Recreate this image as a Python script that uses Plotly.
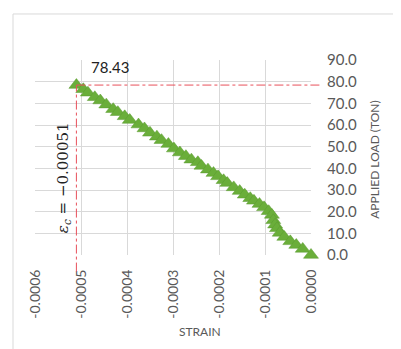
import plotly.graph_objects as go

# ---- data ----
strain = [-0.00051, -0.000495, -0.000485, -0.00047, -0.000458, -0.000445, -0.00043,
          -0.00042, -0.000405, -0.000394, -0.000375, -0.000362, -0.00035, -0.000335,
          -0.000325, -0.00031, -0.000298, -0.000285, -0.000272, -0.00026, -0.000246,
          -0.000238, -0.000224, -0.000212, -0.000202, -0.00019, -0.000182, -0.000168,
          -0.000155, -0.000144, -0.000132, -0.000124, -0.000112, -0.000102, -0.000092,
          -0.000085, -0.000082, -0.000078, -0.000074, -0.000068, -0.000058, -0.000045,
          -0.000032, -0.000018, 0.0]
load = [78.43, 76.5, 74.9, 72.8, 71.3, 69.4, 67.3,
        65.9, 64.0, 62.3, 60.2, 58.4, 56.4, 54.6,
        53.0, 51.2, 49.1, 47.3, 45.6, 44.0, 42.8,
        41.1, 39.4, 37.8, 36.3, 34.5, 33.2, 31.2,
        29.5, 27.8, 26.2, 25.0, 23.5, 22.0, 20.2,
        18.5, 16.0, 14.0, 12.3, 10.2, 8.3, 6.3,
        4.6, 2.8, 0.0]

x_ticks = [-0.0006, -0.0005, -0.0004, -0.0003, -0.0002, -0.0001, 0.0]
x_tick_labels = ["-0.0006", "-0.0005", "-0.0004", "-0.0003", "-0.0002", "-0.0001", "0.0000"]
y_ticks = [0, 10, 20, 30, 40, 50, 60, 70, 80, 90]
y_tick_labels = ["0.0", "10.0", "20.0", "30.0", "40.0", "50.0", "60.0", "70.0", "80.0", "90.0"]

peak_strain = -0.00051
peak_load = 78.43
x_range = [-0.0006, 0.0]
y_range = [0, 90]

GRID = "#D9D9D9"
TXT = "#595959"
GREEN = "#6AAE3A"
RED = "#E8505B"

fig = go.Figure()
fig.add_trace(go.Scatter(
    x=strain, y=load, mode="markers",
    marker=dict(symbol="triangle-up", size=13, color=GREEN,
                line=dict(width=0.5, color="#5A9A30")),
    cliponaxis=False, showlegend=False, hoverinfo="skip",
))

peak_x_paper = (peak_strain - x_range[0]) / (x_range[1] - x_range[0])
peak_y_paper = peak_load / y_range[1]

shapes = [
    # outer chart border
    dict(type="rect", xref="paper", yref="paper", x0=-0.0797, x1=1.344, y0=-0.56, y1=1.236,
         line=dict(color=GRID, width=1), layer="below"),
    # vertical dash-dot guide
    dict(type="line", xref="x", yref="paper", x0=peak_strain, x1=peak_strain,
         y0=-0.085, y1=peak_y_paper, line=dict(color=RED, width=1, dash="dashdot")),
    # horizontal dash-dot guide
    dict(type="line", xref="paper", yref="y", x0=peak_x_paper, x1=1.037,
         y0=peak_load, y1=peak_load, line=dict(color=RED, width=1, dash="dashdot")),
]

annotations = [
    dict(text=f"{peak_load:.2f}", x=-0.000437, y=87.0, xref="x", yref="y",
         showarrow=False, font=dict(family="Lato", size=15, color="#222222")),
    dict(text=f"<i>ε<sub>c</sub></i> = −{abs(peak_strain):.5f}", x=-0.000539, y=35.5,
         xref="x", yref="y", textangle=-90, showarrow=False,
         font=dict(family="DejaVu Serif", size=15, color="#222222")),
    dict(text="APPLIED LOAD (TON)", xref="paper", yref="paper", x=1.264, y=0.49,
         textangle=-90, showarrow=False, font=dict(family="Lato", size=12, color=TXT)),
    dict(text="STRAIN", xref="paper", yref="paper", x=0.597, y=-0.44,
         showarrow=False, font=dict(family="Lato", size=12, color=TXT)),
]

fig.update_layout(
    width=401, height=349,
    margin=dict(l=27, r=98, t=52, b=102),
    paper_bgcolor="white", plot_bgcolor="white",
    shapes=shapes, annotations=annotations,
    xaxis=dict(range=x_range, tickvals=x_ticks, ticktext=x_tick_labels, tickangle=-90,
               showgrid=True, gridcolor=GRID, gridwidth=1, zeroline=False,
               showline=False, ticks="outside", ticklen=8, tickcolor="rgba(0,0,0,0)",
               tickfont=dict(family="Lato", size=14, color=TXT), fixedrange=True),
    yaxis=dict(range=y_range, tickvals=y_ticks, ticktext=y_tick_labels, side="right",
               showgrid=True, gridcolor=GRID, gridwidth=1, zeroline=False,
               showline=False, ticks="outside", ticklen=12, tickcolor="rgba(0,0,0,0)",
               tickfont=dict(family="Lato", size=15, color=TXT), fixedrange=True),
)

fig.write_html("out.html")
